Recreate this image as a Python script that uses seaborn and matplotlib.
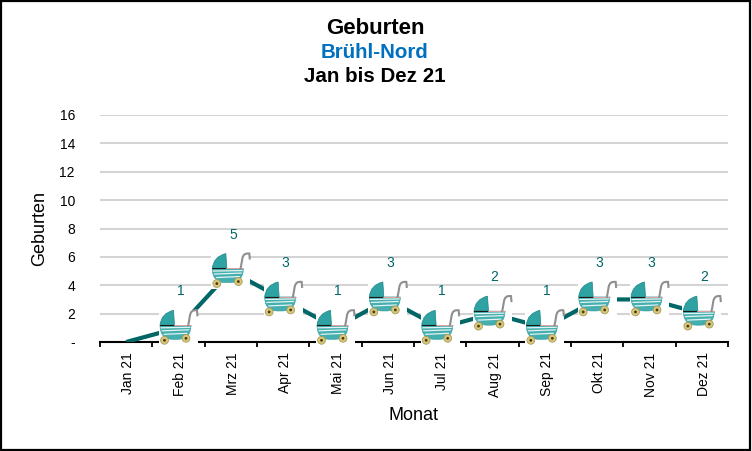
import numpy as np
import pandas as pd
import seaborn as sns
import matplotlib.pyplot as plt
from matplotlib.offsetbox import AnnotationBbox, DrawingArea
from matplotlib.patches import Circle, PathPatch, Rectangle
from matplotlib.path import Path
from matplotlib.lines import Line2D
from matplotlib.transforms import ScaledTranslation

months = ['Jan 21', 'Feb 21', 'Mrz 21', 'Apr 21', 'Mai 21', 'Jun 21',
          'Jul 21', 'Aug 21', 'Sep 21', 'Okt 21', 'Nov 21', 'Dez 21']
births = [0, 1, 5, 3, 1, 3, 1, 2, 1, 3, 3, 2]
y_ticks = [0, 2, 4, 6, 8, 10, 12, 14, 16]
y_labels = ['-', '2', '4', '6', '8', '10', '12', '14', '16']

TEAL = '#006666'
PX = 0.72  # one pixel in points at dpi 100

sns.set_theme(style='white')
plt.rcParams['font.family'] = ['Liberation Sans', 'DejaVu Sans']
plt.rcParams['text.color'] = 'black'
plt.rcParams['axes.labelcolor'] = 'black'
plt.rcParams['xtick.labelcolor'] = 'black'
plt.rcParams['ytick.labelcolor'] = 'black'


def pram():
    # small baby carriage icon on a white box, drawn in pixels
    da = DrawingArea(39 * PX, 35 * PX, 0, 0)

    def pts(*xy):
        return [(x * PX, y * PX) for x, y in xy]

    da.add_artist(Rectangle((0, 0), 39 * PX, 35 * PX, fc='white', ec='none'))
    hood = Path(pts((1, 20), (2, 32), (14.5, 35), (15.5, 20), (1, 20)),
                [Path.MOVETO, Path.CURVE3, Path.CURVE3, Path.LINETO, Path.CLOSEPOLY])
    da.add_artist(PathPatch(hood, fc='#2FA3A3', ec='#1F8585', lw=0.5))
    body = Path(pts((1, 20), (32, 20), (32, 5), (16, 6), (1, 5), (1, 20), (1, 20)),
                [Path.MOVETO, Path.LINETO, Path.CURVE3, Path.CURVE3,
                 Path.CURVE3, Path.CURVE3, Path.CLOSEPOLY])
    da.add_artist(PathPatch(body, fc='#45AFAF', ec='#2F9A9A', lw=0.4))
    for a, b in [((2, 17.5), (31, 18)), ((3, 14.5), (30, 15.5)), ((5, 11), (28, 12))]:
        da.add_artist(Line2D(*zip(*pts(a, b)), color='#E4F3F3', lw=0.9))
    da.add_artist(Line2D(*zip(*pts((1, 20.3), (15, 20.3))), color='#1A1A1A', lw=0.8))
    da.add_artist(Line2D(*zip(*pts((15, 20.3), (32, 20.3))), color='#E3A0A0', lw=0.7))
    handle = Path(pts((29, 19), (30, 24), (31, 30), (32, 36), (38, 35), (38.5, 29)),
                  [Path.MOVETO, Path.LINETO, Path.LINETO,
                   Path.CURVE3, Path.CURVE3, Path.LINETO])
    da.add_artist(PathPatch(handle, fc='none', ec='#8F8F8F', lw=1.5))
    for x, y in [(5.5, 5), (27, 7)]:
        da.add_artist(Circle((x * PX, y * PX), 3.9 * PX, fc='#D8C878', ec='#A89A60', lw=0.6))
        da.add_artist(Circle((x * PX, y * PX), 1.4 * PX, fc='#4A3A10', ec='none'))
    return da


fig = plt.figure(figsize=(7.52, 4.51), dpi=100, facecolor='white')
ax = fig.add_axes([100 / 752, 109 / 451, 628 / 752, 227 / 451])

df = pd.DataFrame({'Monat': months, 'Geburten': births})
sns.lineplot(data=df, x='Monat', y='Geburten', color=TEAL, linewidth=3, sort=False,
             solid_capstyle='butt', ax=ax, zorder=3)

ax.set_xlim(-0.5, 11.5)
ax.set_ylim(0, 16)
ax.set_yticks(y_ticks, y_labels, fontsize=10)
ax.set_xticks(range(len(months)), months, rotation=90, fontsize=10)
ax.set_xticks(np.arange(-0.5, 12), minor=True)
ax.tick_params(axis='x', which='major', length=0, pad=7.5, bottom=False)
ax.tick_params(axis='x', which='minor', length=3.5, width=1.3, color='black', bottom=True)
ax.tick_params(axis='y', length=0, pad=18)
ax.grid(axis='y', color='#D4D4D4', linewidth=1.5)
ax.set_axisbelow(True)
sns.despine(ax=ax, left=True)
ax.spines['bottom'].set_linewidth(1.5)
ax.spines['bottom'].set_color('black')

# rotated month labels sit a little right of the tick centre
nudge = ScaledTranslation(2 * PX / 72, 0, fig.dpi_scale_trans)
for lab in ax.get_xticklabels():
    lab.set_transform(lab.get_transform() + nudge)

ax.set_xlabel('Monat', fontsize=13)
ax.set_ylabel('Geburten', fontsize=13, va='center')
ax.xaxis.label.set_va('center')
ax.xaxis.set_label_coords(0.5, -0.325)
ax.yaxis.set_label_coords(-0.096, 0.5)

for i, v in enumerate(births):
    if v == 0:
        continue
    box = AnnotationBbox(pram(), (i, v), frameon=False, pad=0, box_alignment=(0.5, 0.5),
                         annotation_clip=False, zorder=6)
    ax.add_artist(box)
    ax.annotate(str(v), (i, v), xytext=(2 * PX, 36.5 * PX), textcoords='offset points',
                ha='center', va='center', color=TEAL, fontsize=10, zorder=7)

fig.text(375 / 752, 1 - 29 / 451, 'Geburten', ha='center', va='center',
         fontsize=16, fontweight='bold')
fig.text(375 / 752, 1 - 53 / 451, 'Brühl-Nord', ha='center', va='center',
         fontsize=14.8, fontweight='bold', color='#0070C0')
fig.text(375 / 752, 1 - 77 / 451, 'Jan bis Dez 21', ha='center', va='center',
         fontsize=14.8, fontweight='bold')

# black frame around the whole chart
fig.add_artist(Rectangle((1 / 752, 1.5 / 451), 749 / 752, 448.5 / 451, transform=fig.transFigure,
                         fc='none', ec='black', lw=1.6))

fig.savefig('out.png', dpi=100)
